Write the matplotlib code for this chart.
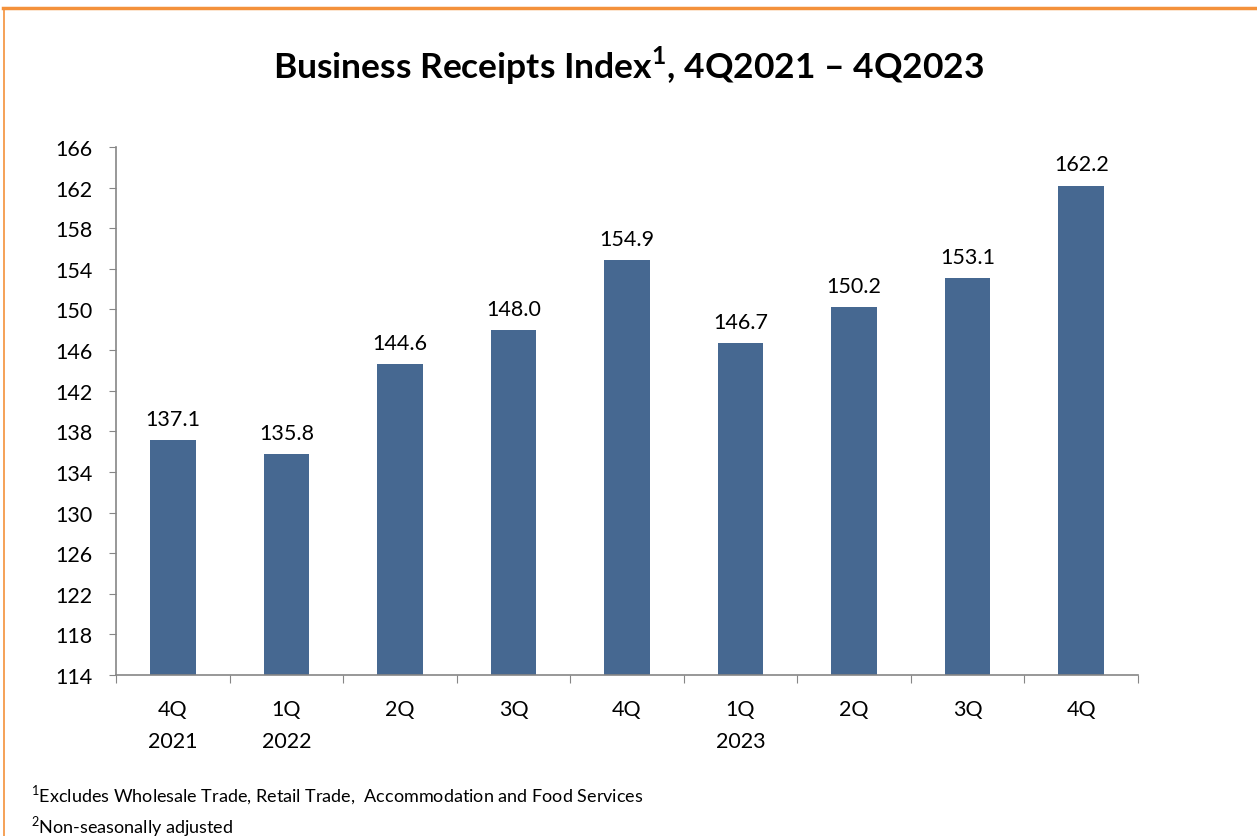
import matplotlib.pyplot as plt
from matplotlib.lines import Line2D

# Data
quarters = ["4Q\n2021", "1Q\n2022", "2Q", "3Q", "4Q", "1Q\n2023", "2Q", "3Q", "4Q"]
values = [137.1, 135.8, 144.6, 148.0, 154.9, 146.7, 150.2, 153.1, 162.2]
yticks = list(range(114, 167, 4))

plt.rcParams['font.family'] = ['Lato', 'DejaVu Sans']
plt.rcParams['mathtext.fontset'] = 'custom'
plt.rcParams['mathtext.rm'] = 'Lato'
plt.rcParams['mathtext.bf'] = 'Lato:bold'

fig = plt.figure(figsize=(12.57, 8.37), dpi=100)
ax = fig.add_axes([0.0923, 0.1924, 0.8130, 0.6308])

x = list(range(len(values)))
ax.bar(x, values, width=0.4, color="#466891", zorder=2)

for xi, v in zip(x, values):
    ax.annotate(f"{v:.1f}", (xi, v), xytext=(0, 8), textcoords="offset points",
                ha="center", va="bottom", fontsize=15.5)

ax.set_ylim(114, 166)
ax.set_xlim(-0.5, len(values) - 0.5)
ax.set_yticks(yticks)
ax.set_yticklabels([str(t) for t in yticks], fontsize=15.5)

# category labels between tick marks
ax.set_xticks([i - 0.5 for i in range(len(values) + 1)])
ax.set_xticklabels([])
ax.set_xticks(x, minor=True)
ax.set_xticklabels(quarters, minor=True, fontsize=15.5, linespacing=1.75, va="top")
ax.tick_params(axis="x", which="minor", length=0, pad=17)
ax.tick_params(axis="x", which="major", length=6, color="#868686")
ax.tick_params(axis="y", length=5, color="#868686", pad=12)

for s in ["top", "right"]:
    ax.spines[s].set_visible(False)
for s in ["left", "bottom"]:
    ax.spines[s].set_color("#868686")
    ax.spines[s].set_linewidth(1.2)

fig.text(0.5, 0.921, r"Business Receipts Index$^{\mathbf{1}}$, 4Q2021 – 4Q2023",
         ha="center", va="center", fontsize=25.5, fontweight="bold")

fig.text(0.025, 0.050, r"$^{1}$Excludes Wholesale Trade, Retail Trade,  Accommodation and Food Services",
         ha="left", va="center", fontsize=13)
fig.text(0.025, 0.012, r"$^{2}$Non-seasonally adjusted",
         ha="left", va="center", fontsize=13)

# orange frame
fig.add_artist(Line2D([0.002, 1.0], [0.989, 0.989], color="#F4913B", linewidth=2.5))
fig.add_artist(Line2D([0.003, 0.003], [0.0, 0.989], color="#F4913B", linewidth=1.2))

fig.savefig("out.png", dpi=100)
